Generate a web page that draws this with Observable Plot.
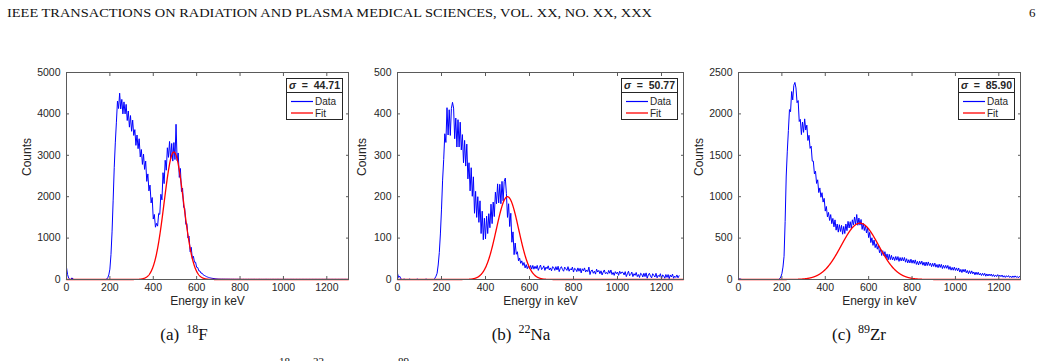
<!DOCTYPE html>
<html>
<head>
<meta charset="utf-8">
<script src="https://cdn.jsdelivr.net/npm/d3@7"></script>
<script src="https://cdn.jsdelivr.net/npm/@observablehq/plot@0.6"></script>
<style>
  html, body { margin: 0; padding: 0; background: #fff; }
  #page { position: relative; width: 1041px; height: 361px; overflow: hidden; background: #fff; }
  #page > svg { position: absolute; }
  .serif { font-family: "Liberation Serif", "Times New Roman", serif; fill: #111; }
</style>
</head>
<body>
<div id="page"></div>
<script>
// ---- Spectra: counts per 5 keV bin, 0 .. 1300 keV ----
const energyStep = 5;

const countsF18 = [
  290,120,30,10,0,40,10,0,
  0,0,0,0,0,0,0,0,0,0,0,0,0,0,0,0,0,0,0,0,0,0,0,0,0,0,0,0,0,
  10,40,110,250,600,1150,1900,2700,3300,3800,
  4310,4130,4500,4120,4350,4000,4290,4000,4230,3840,
  4070,3680,3960,3580,3850,3480,3620,3240,3490,3160,
  3400,2960,3140,2780,3030,2660,2860,2370,2550,2140,
  2280,1850,1980,1460,1571,1263,1355,1289,1597,1572,
  2058,1924,2580,2316,2880,2640,3182,2950,3334,2912,
  3286,2860,3308,2898,3750,2870,3056,2466,2682,2124,
  2210,1746,1715,1333,1354,1002,1047,670,778,509,
  562,418,418,294,289,209,205,153,153,113,
  100,85,70,60,50,42,36,30,26,22,18,16,14,12,
  11,10,9,10,8,9,7,8,7,8,6,7,6,7,5,6,5,6,5,5,
  4,3,5,3,4,4,3,5,3,4,
  4,3,5,3,4,3,4,5,3,4,
  3,4,3,5,3,4,3,4,3,4,
  4,3,4,3,5,3,4,3,3,4,
  3,4,3,4,3,3,4,3,4,3,
  3,4,3,3,4,3,3,4,3,3,
  4,3,3,4,3,3,4,3,3,4,
  3,3,4,3,3,4,3,3,4,3,
  3,4,3,3,4,3,3,4,3,3,
  4,3,3,4,3,3,4,3,3,4
];

const countsNa22 = [
  15,5,8,2,
  0,0,1,0,0,0,0,1,0,0,0,0,0,0,1,0,0,0,0,0,0,0,1,0,0,0,0,0,0,0,
  3,8,15,35,65,110,170,240,290,
  352,331,415,349,410,348,413,428,414,340,
  390,320,386,320,380,313,350,282,336,274,
  327,243,282,214,270,201,248,160,213,150,
  200,138,190,111,165,96,148,98,153,111,
  159,125,182,135,187,152,211,183,231,185,
  230,183,237,190,237,245,208,150,183,128,
  160,90,115,60,88,61,67,45,52,39,
  45,34,41,28,36,26,33,26,34,25,
  34,25,
  32,26,34,22,29,35,24,27,33,22,
  30,26,33,23,28,21,31,29,22,31,
  23,32,19,27,31,24,20,30,26,22,
  31,20,26,23,30,18,27,25,19,28,
  20,27,16,26,21,28,18,23,19,30,
  12,21,23,15,20,13,25,18,22,14,
  21,11,18,23,14,17,13,22,15,23,
  12,17,10,19,14,18,10,20,14,18,
  17,11,19,7,14,20,9,12,18,7,
  14,10,17,7,12,5,15,13,6,15,
  7,16,3,11,15,8,4,14,10,6,
  15,4,10,7,14,2,11,9,3,12,
  5,12,2,11,6,13,3,8,5,11,
  4,9
];

const countsZr89 = [
  20,8,5,
  0,0,0,0,0,0,0,0,0,0,0,0,0,0,0,0,0,0,0,0,0,0,0,0,0,0,0,0,0,0,0,0,0,0,0,
  10,30,70,150,280,700,1250,1550,1800,
  2052,2026,2270,2169,2345,2380,2313,2135,2161,1908,
  1934,1750,1902,1777,1940,1805,1864,1679,1742,1584,
  1610,1430,1430,1276,1308,1160,1204,1050,1106,993,
  1048,935,980,826,882,756,810,713,784,674,
  738,636,720,596,670,572,662,580,654,547,
  641,555,670,590,702,622,698,618,721,659,
  755,664,785,655,742,657,725,605,678,591,
  654,562,625,506,569,446,504,412,476,385,
  432,366,415,324,365,290,348,290,336,260,
  309,238,304,240,
  292,236,273,229,278,234,277,219,265,224,
  266,224,266,209,251,200,239,200,245,197,
  235,194,237,182,219,175,221,185,222,173,
  209,164,211,168,212,169,197,155,196,158,
  198,149,181,143,185,146,183,132,172,136,
  171,135,170,122,157,113,146,112,150,109,
  140,104,139,90,122,84,123,92,124,81,
  109,70,106,70,104,69,91,56,89,59,
  88,54,75,48,76,49,75,40,67,42,
  66,44,66,38,60,34,55,35,59,35,
  53,34,54,28,46,25,46,29,47,25,
  41,22,43,25,44,26,38,20,38,23
];

// ---- Gaussian photopeak fits ----
const fitAmplitude = [3080, 200, 680];
const fitCentre = [495, 500, 560];
const fitSigma = [44.71, 50.77, 85.90];

// ---- Axes ----
const xTicks = [0, 200, 400, 600, 800, 1000, 1200];
const yTicksF18 = [0, 1000, 2000, 3000, 4000, 5000];
const yTicksNa22 = [0, 100, 200, 300, 400, 500];
const yTicksZr89 = [0, 500, 1000, 1500, 2000, 2500];

const captionLetters = ["(a)", "(b)", "(c)"];
const massNumbers = ["18", "22", "89"];
const elements = ["F", "Na", "Zr"];

const panels = [
  {counts: countsF18, yTicks: yTicksF18, frameLeft: 66, frameWidth: 282, labelDx: -39, caption: 184},
  {counts: countsNa22, yTicks: yTicksNa22, frameLeft: 397, frameWidth: 286, labelDx: -35, caption: 521},
  {counts: countsZr89, yTicks: yTicksZr89, frameLeft: 738, frameWidth: 282, labelDx: -39, caption: 859}
];

const page = document.getElementById("page");
const SVGNS = "http://www.w3.org/2000/svg";
const frameTop = 72, frameHeight = 207;
const axisGray = "#5a5a5a";
const textGray = "#262626";

// Page text layer: running header, sub-figure captions, caption superscripts
const textLayer = document.createElementNS(SVGNS, "svg");
textLayer.setAttribute("width", 1041);
textLayer.setAttribute("height", 361);
textLayer.style.left = "0px";
textLayer.style.top = "0px";
page.appendChild(textLayer);

function addText(parent, attrs, content) {
  const t = document.createElementNS(SVGNS, "text");
  for (const k in attrs) t.setAttribute(k, attrs[k]);
  if (content !== undefined) t.textContent = content;
  parent.appendChild(t);
  return t;
}
function addTspan(parent, attrs, content) {
  const t = document.createElementNS(SVGNS, "tspan");
  for (const k in attrs) t.setAttribute(k, attrs[k]);
  t.textContent = content;
  parent.appendChild(t);
  return t;
}

addText(textLayer, {x: 7, y: 17, class: "serif", "font-size": 13, textLength: 645, lengthAdjust: "spacingAndGlyphs"},
  "IEEE TRANSACTIONS ON RADIATION AND PLASMA MEDICAL SCIENCES, VOL. XX, NO. XX, XXX");
addText(textLayer, {x: 1029, y: 17, class: "serif", "font-size": 13}, "6");

panels.forEach((p, i) => {
  const cap = addText(textLayer, {x: p.caption, y: 340, class: "serif", "font-size": 17, "text-anchor": "middle"});
  addTspan(cap, {}, captionLetters[i]);
  addTspan(cap, {dx: 7, dy: -7, "font-size": 12}, massNumbers[i]);
  addTspan(cap, {dy: 7}, elements[i]);
});
// first line of the figure caption, mostly below the page edge
[[279, "18"], [313, "22"], [398, "89"]].forEach(([x, s]) =>
  addText(textLayer, {x, y: 365, class: "serif", "font-size": 11}, s));

// ---- Plots ----
const mL = 56, mR = 8, mT = 10, mB = 34;

panels.forEach((p, i) => {
  const data = p.counts.map((c, k) => ({energy: k * energyStep, counts: c}));
  const A = fitAmplitude[i], mu = fitCentre[i], s = fitSigma[i];
  const fit = d3.range(0, 1301, 1).map(e => ({energy: e, counts: A * Math.exp(-((e - mu) ** 2) / (2 * s * s))}));
  const yMax = p.yTicks[p.yTicks.length - 1];
  const blank = () => "";

  const chart = Plot.plot({
    width: mL + p.frameWidth + mR,
    height: mT + frameHeight + mB,
    marginLeft: mL, marginRight: mR, marginTop: mT, marginBottom: mB,
    style: {fontFamily: '"Liberation Sans", Arial, sans-serif', fontSize: "10.5px", color: textGray, background: "none", overflow: "visible"},
    x: {domain: [0, 1300]},
    y: {domain: [0, yMax]},
    marks: [
      Plot.line(data, {x: "energy", y: "counts", stroke: "#0000ff", strokeWidth: 1}),
      Plot.line(fit, {x: "energy", y: "counts", stroke: "#ff0000", strokeWidth: 1.3}),
      Plot.frame({stroke: axisGray}),
      Plot.axisX({ticks: xTicks, tickSize: 0, tickPadding: 4, tickFormat: d3.format("d"), label: null}),
      Plot.axisX({ticks: xTicks, tickSize: -3, tickFormat: blank, label: null, stroke: axisGray}),
      Plot.axisX({anchor: "top", ticks: xTicks, tickSize: -3, tickFormat: blank, label: null, stroke: axisGray}),
      Plot.axisY({ticks: p.yTicks, tickSize: 0, tickPadding: 6, tickFormat: d3.format("d"), label: null}),
      Plot.axisY({ticks: p.yTicks, tickSize: -3, tickFormat: blank, label: null, stroke: axisGray}),
      Plot.axisY({anchor: "right", ticks: p.yTicks, tickSize: -3, tickFormat: blank, label: null, stroke: axisGray}),
      Plot.text(["Counts"], {frameAnchor: "left", dx: p.labelDx, rotate: -90, fontSize: 12, fill: textGray}),
      Plot.text(["Energy in keV"], {frameAnchor: "bottom", dy: 25, fontSize: 12, fill: textGray})
    ]
  });
  chart.style.left = (p.frameLeft - mL) + "px";
  chart.style.top = (frameTop - mT) + "px";
  page.appendChild(chart);

  // legend box in the upper right corner of the axes
  const lg = document.createElementNS(SVGNS, "svg");
  lg.setAttribute("width", 58);
  lg.setAttribute("height", 43);
  lg.style.left = (p.frameLeft + p.frameWidth - 62.5) + "px";
  lg.style.top = "78px";
  lg.style.fontFamily = '"Liberation Sans", Arial, sans-serif';
  const box = document.createElementNS(SVGNS, "rect");
  Object.entries({x: 0.5, y: 0.5, width: 56, height: 41, fill: "#fff", stroke: textGray, "stroke-width": 1}).forEach(([k, v]) => box.setAttribute(k, v));
  lg.appendChild(box);
  const sep = document.createElementNS(SVGNS, "line");
  Object.entries({x1: 0.5, x2: 56.5, y1: 14.5, y2: 14.5, stroke: textGray, "stroke-width": 1}).forEach(([k, v]) => sep.setAttribute(k, v));
  lg.appendChild(sep);
  const title = addText(lg, {x: 28.5, y: 11, "text-anchor": "middle", "font-size": 10.5, "font-weight": "bold", fill: textGray, "xml:space": "preserve", style: "white-space:pre"});
  addTspan(title, {"font-style": "italic"}, "σ");
  addTspan(title, {}, "  =  " + fitSigma[i].toFixed(2));
  [["Data", "#0000ff", 1.2, 23.5], ["Fit", "#ff0000", 1.3, 35]].forEach(([name, col, w, yy]) => {
    const ln = document.createElementNS(SVGNS, "line");
    Object.entries({x1: 5, x2: 27, y1: yy, y2: yy, stroke: col, "stroke-width": w}).forEach(([k, v]) => ln.setAttribute(k, v));
    lg.appendChild(ln);
    addText(lg, {x: 29, y: yy + 3.6, "font-size": 10, fill: textGray}, name);
  });
  page.appendChild(lg);
});
</script>
</body>
</html>
